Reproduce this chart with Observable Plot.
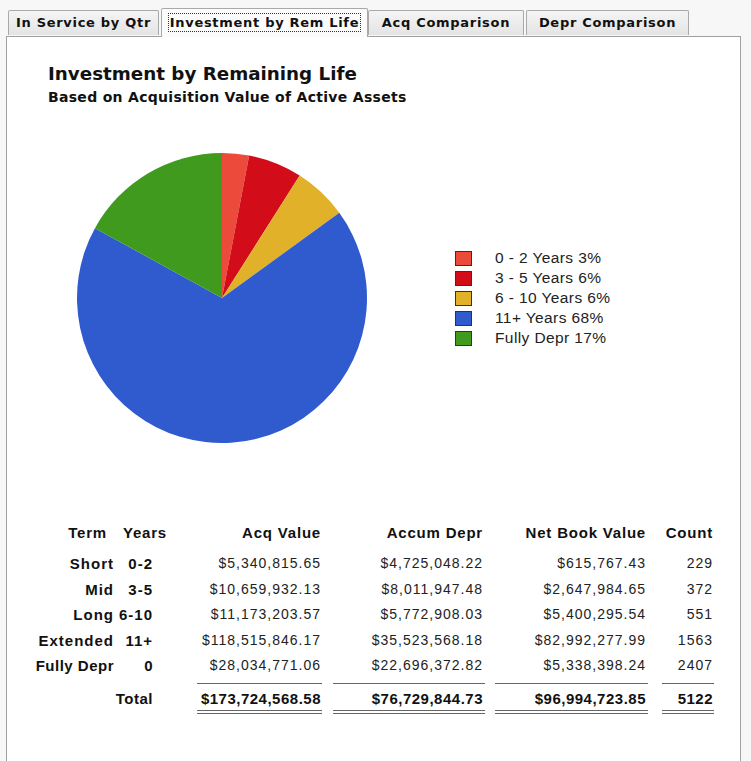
<!DOCTYPE html>
<html>
<head>
<meta charset="utf-8">
<script src="https://cdn.jsdelivr.net/npm/d3@7"></script>
<script src="https://cdn.jsdelivr.net/npm/@observablehq/plot@0.6"></script>
<style>
  html, body { margin: 0; padding: 0; }
  body { width: 751px; height: 761px; position: relative; overflow: hidden; background: #f7f7f7; font-family: "Liberation Sans", Arial, sans-serif; }
  .tab { position: absolute; top: 10px; height: 25px; box-sizing: border-box; border: 1px solid #a9a9a9; border-bottom: none; background: linear-gradient(#f4f4f4, #e4e4e4); font-family: "DejaVu Sans", sans-serif; font-weight: bold; font-size: 13px; letter-spacing: 0.7px; line-height: 24px; text-align: center; color: #111; border-radius: 2px 2px 0 0; white-space: nowrap; }
  .tab.sel { top: 8px; height: 29px; line-height: 27px; background: #fbfbfb; z-index: 3; }
  .tab.sel span { border: 1px dotted #333; padding: 1px 1px; }
  #panel { position: absolute; left: 6px; top: 36px; width: 735px; height: 740px; box-sizing: border-box; border: 1px solid #a0a0a0; background: #fff; z-index: 2; }
  #title { position: absolute; left: 48px; top: 63px; font-family: "DejaVu Sans", sans-serif; font-weight: bold; font-size: 18.3px; letter-spacing: 0px; color: #111; z-index: 4; }
  #subtitle { position: absolute; left: 48px; top: 89px; font-family: "DejaVu Sans", sans-serif; font-weight: bold; font-size: 14px; letter-spacing: 0.3px; color: #111; z-index: 4; }
  #pie { position: absolute; left: 72px; top: 148px; z-index: 4; }
  #legend { position: absolute; left: 455px; top: 248px; z-index: 4; font-size: 15.5px; letter-spacing: 0.4px; color: #222; }
  .lg { height: 20px; display: flex; align-items: center; }
  .sw { width: 17px; height: 15px; box-sizing: border-box; border: 1px solid #333; margin-right: 23px; }
  .cell { position: absolute; z-index: 4; white-space: nowrap; font-size: 14px; letter-spacing: 1px; color: #222; transform: translateY(-50%); }
  .hdr { font-weight: bold; color: #111; font-size: 15px; letter-spacing: 0.8px; }
  .lbl { font-weight: bold; color: #111; font-size: 15px; letter-spacing: 1px; }
  .narrow { font-family: "Liberation Sans Narrow", "Arial Narrow", "Liberation Sans", sans-serif; font-weight: bold; color: #111; font-size: 15px; letter-spacing: 0.5px; }
  .rule { position: absolute; z-index: 4; height: 0; border-top: 1px solid #666; }
</style>
</head>
<body>
<div id="tabs"></div>
<div id="panel"></div>
<div id="title">Investment by Remaining Life</div>
<div id="subtitle">Based on Acquisition Value of Active Assets</div>
<div id="pie"></div>
<div id="legend"></div>
<div id="table"></div>
<script>
// ---- data ----
const tabNames = ["In Service by Qtr", "Investment by Rem Life", "Acq Comparison", "Depr Comparison"];
const sliceLabels = ["0 - 2 Years", "3 - 5 Years", "6 - 10 Years", "11+ Years", "Fully Depr"];
const slicePct = [3, 6, 6, 68, 17];
const sliceColors = ["#ec4a3a", "#d20c18", "#e2b12a", "#2f5bcf", "#3f9a1e"];

const headers = ["Term", "Years", "Acq Value", "Accum Depr", "Net Book Value", "Count"];
const terms = ["Short", "Mid", "Long", "Extended", "Fully Depr"];
const years = ["0-2", "3-5", "6-10", "11+", "0"];
const acqValue = ["$5,340,815.65", "$10,659,932.13", "$11,173,203.57", "$118,515,846.17", "$28,034,771.06"];
const accumDepr = ["$4,725,048.22", "$8,011,947.48", "$5,772,908.03", "$35,523,568.18", "$22,696,372.82"];
const netBook = ["$615,767.43", "$2,647,984.65", "$5,400,295.54", "$82,992,277.99", "$5,338,398.24"];
const counts = ["229", "372", "551", "1563", "2407"];
const totals = ["$173,724,568.58", "$76,729,844.73", "$96,994,723.85", "5122"];

// ---- tabs ----
const tabGeom = [[8, 151], [161, 207], [368, 156], [526, 163]];
const tabsDiv = document.getElementById("tabs");
tabNames.forEach((t, i) => {
  const d = document.createElement("div");
  d.className = "tab" + (i === 1 ? " sel" : "");
  d.style.left = tabGeom[i][0] + "px";
  d.style.width = tabGeom[i][1] + "px";
  d.innerHTML = `<span>${t}</span>`;
  tabsDiv.appendChild(d);
});

// ---- pie ----
const rows = sliceLabels.map((label, i) => ({label, pct: slicePct[i]}));

function arcRender(index, scales, values, dimensions) {
  const {width, height} = dimensions;
  const r = Math.min(width, height) / 2 - 5;
  const arc = d3.arc().innerRadius(0).outerRadius(r);
  const g = d3.create("svg:g").attr("transform", `translate(${width / 2},${height / 2})`);
  g.selectAll("path").data(index).join("path")
    .attr("d", i => arc({startAngle: values.x1[i], endAngle: values.x2[i]}))
    .attr("fill", i => values.fill[i]);
  return g.node();
}

const total = d3.sum(slicePct);
const pie = Plot.plot({
  width: 300,
  height: 300,
  margin: 0,
  style: {background: "transparent"},
  x: {domain: [0, total], range: [0, 2 * Math.PI], axis: null},
  y: {axis: null},
  color: {domain: sliceLabels, range: sliceColors},
  marks: [
    Plot.barX(rows, Plot.stackX({x: "pct", fill: "label", order: null, render: arcRender}))
  ]
});
document.getElementById("pie").appendChild(pie);

// ---- legend ----
const color = pie.scale("color");
const legend = document.getElementById("legend");
sliceLabels.forEach((l, i) => {
  const row = document.createElement("div");
  row.className = "lg";
  row.innerHTML = `<div class="sw" style="background:${color.apply(l)}"></div><span>${l} ${slicePct[i]}%</span>`;
  legend.appendChild(row);
});

// ---- table ----
const tbl = document.getElementById("table");
function cell(text, right, y, cls) {
  const d = document.createElement("div");
  d.className = "cell " + (cls || "");
  d.textContent = text;
  d.style.right = (751 - right) + "px";
  d.style.top = y + "px";
  tbl.appendChild(d);
}
function rule(x1, x2, y) {
  const d = document.createElement("div");
  d.className = "rule";
  d.style.left = x1 + "px";
  d.style.width = (x2 - x1) + "px";
  d.style.top = y + "px";
  tbl.appendChild(d);
}
const colRight = [107, 167, 321, 483, 646, 713];
const hdrY = 532;
headers.forEach((h, i) => cell(h, colRight[i], hdrY, "hdr"));
const dataRight = [114, 153, 321, 483, 646, 713];
const rowY = [563, 588.5, 614, 639.5, 665];
terms.forEach((t, i) => {
  const y = rowY[i];
  const narrow = t === "Fully Depr";
  cell(t, dataRight[0], y, narrow ? "narrow" : "lbl");
  cell(years[i], dataRight[1], y, narrow ? "narrow" : "lbl");
  cell(acqValue[i], dataRight[2], y);
  cell(accumDepr[i], dataRight[3], y);
  cell(netBook[i], dataRight[4], y);
  cell(counts[i], dataRight[5], y);
});
const totY = 698;
cell("Total", dataRight[1], totY, "narrow");
totals.forEach((t, i) => cell(t, dataRight[i + 2], totY, "narrow"));
const ruleSpans = [[197, 322], [333, 485], [495, 648], [662, 714]];
ruleSpans.forEach(([a, b]) => { rule(a, b, 683); rule(a, b, 710); rule(a, b, 713); });
</script>
</body>
</html>
